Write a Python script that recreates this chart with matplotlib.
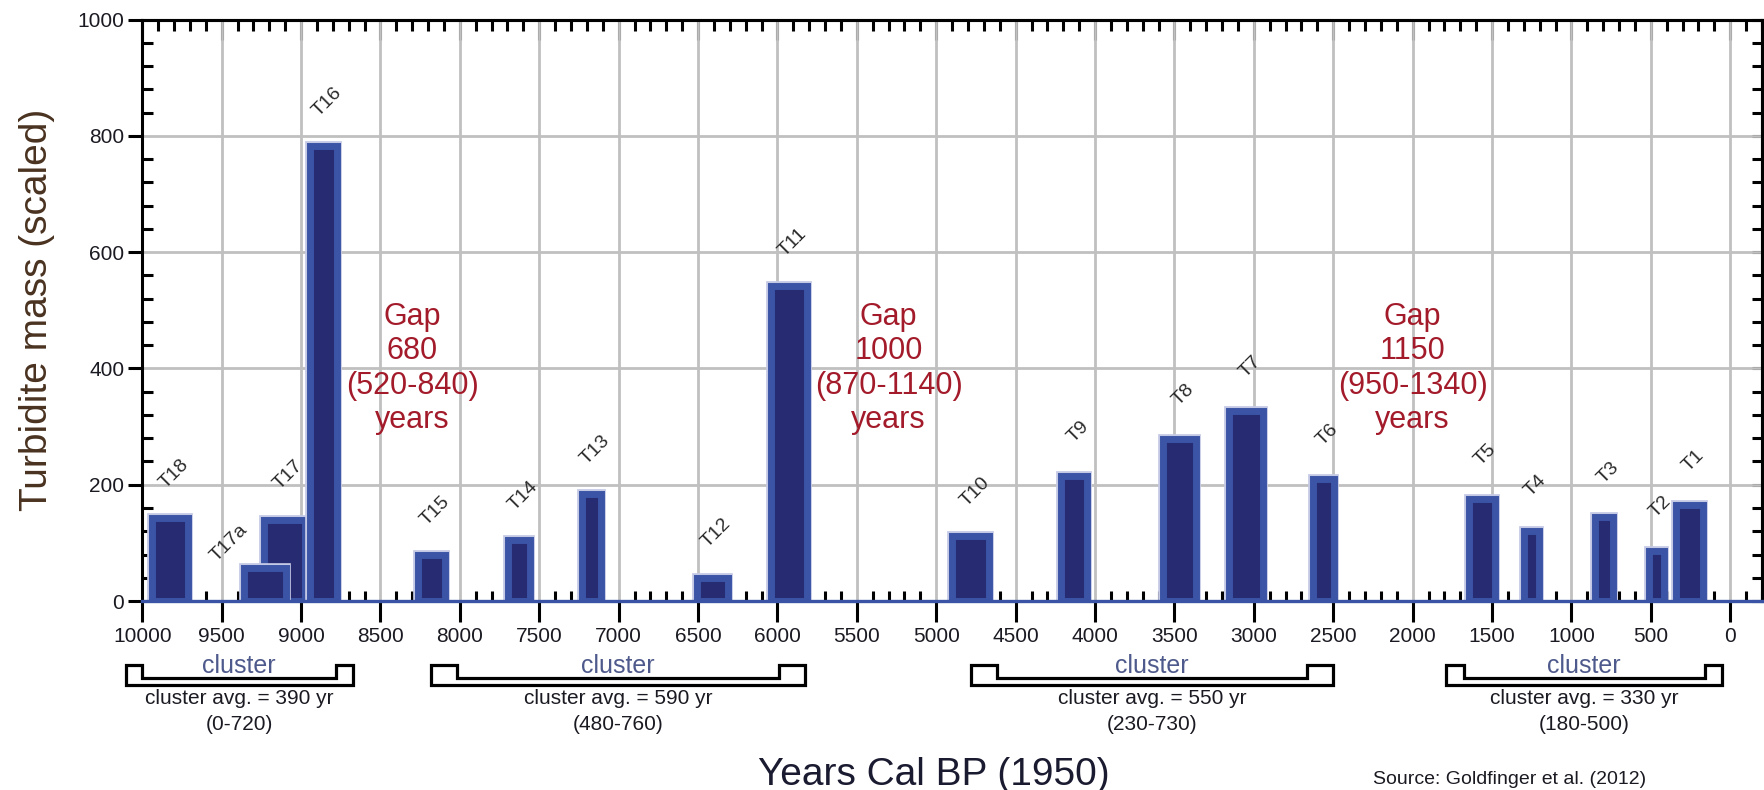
import numpy as np
import matplotlib
matplotlib.use("Agg")
import matplotlib.pyplot as plt
from matplotlib.ticker import MultipleLocator, StrMethodFormatter
from matplotlib.transforms import blended_transform_factory
from matplotlib.patches import Polygon

plt.rcParams['font.family'] = ['Liberation Sans', 'DejaVu Sans']

# turbidite events (T17 listed before T17a so T17a sits on top)
labels = ["T18", "T17", "T17a", "T16", "T15", "T14", "T13", "T12", "T11", "T10",
          "T9", "T8", "T7", "T6", "T5", "T4", "T3", "T2", "T1"]
age_center = [9825, 9104, 9226, 8860, 8180, 7625, 7170, 6410, 5928, 4782,
              4132, 3470, 3050, 2564, 1565, 1253, 795, 465, 256]
age_width = [232, 261, 263, 170, 172, 138, 119, 195, 225, 232,
             159, 207, 217, 133, 166, 96, 118, 99, 166]
mass = [142, 140, 56, 782, 79, 105, 184, 40, 541, 111,
        215, 278, 327, 209, 175, 121, 144, 86, 165]

# gaps between clusters
gap_text = ["Gap\n680\n(520-840)\nyears",
            "Gap\n1000\n(870-1140)\nyears",
            "Gap\n1150\n(950-1340)\nyears"]
gap_x = [8300, 5300, 2000]
gap_y = 400

# cluster brackets under the axis
cluster_start = [10104, 8183, 4782, 1789]
cluster_end = [8674, 5825, 2500, 50]
cluster_notch = [105, 166, 163, 110]
cluster_avg = ["cluster avg. = 390 yr", "cluster avg. = 590 yr",
               "cluster avg. = 550 yr", "cluster avg. = 330 yr"]
cluster_range = ["(0-720)", "(480-760)", "(230-730)", "(180-500)"]

fig = plt.figure(figsize=(17.65, 7.9), dpi=100)
ax = fig.add_axes([0.0806, 0.2392, 0.9177, 0.7361])

ax.set_xlim(10000, -200)
ax.set_ylim(0, 1000)
ax.set_axisbelow(True)
ax.grid(which='major', color='#c0c0c0', lw=2)

# bars: faint halo, then the bar with a lighter blue rim
for i in range(len(labels)):
    ax.bar(age_center[i], mass[i], width=age_width[i], color='none',
           edgecolor='#c3c8e4', lw=7, zorder=3 + i * 0.01)
    ax.bar(age_center[i], mass[i], width=age_width[i], color='#272b72',
           edgecolor='#3b54a5', lw=5, zorder=3.005 + i * 0.01)
    if labels[i] == "T17a":
        off = (-26, 18)
    else:
        off = (3, 32)
    ax.annotate(labels[i], (age_center[i], mass[i]), xytext=off,
                textcoords='offset points', rotation=45, ha='center',
                va='center', fontsize=14, color='#2a2a2a')

for t, x in zip(gap_text, gap_x):
    ax.text(x, gap_y, t, ha='center', va='center', multialignment='center',
            fontsize=22, color='#a31b2a', linespacing=1.2)

# brackets
trans = blended_transform_factory(ax.transData, ax.transAxes)
y_top, y_in, y_bot = -0.1101, -0.1324, -0.1445
for x0, x1, n, avg, rng in zip(cluster_start, cluster_end, cluster_notch,
                               cluster_avg, cluster_range):
    pts = [(x0, y_top), (x0 - n, y_top), (x0 - n, y_in), (x1 + n, y_in),
           (x1 + n, y_top), (x1, y_top), (x1, y_bot), (x0, y_bot)]
    ax.add_patch(Polygon(pts, closed=True, fill=False, ec='black', lw=2.3,
                         joinstyle='miter', transform=trans, clip_on=False))
    xc = (x0 + x1) / 2
    ax.text(xc, -0.1238, "cluster", transform=trans, ha='center',
            va='baseline', fontsize=18, color='#4f5a8c')
    ax.text(xc, -0.177, avg, transform=trans, ha='center', va='baseline',
            fontsize=15, color='#1a1a22')
    ax.text(xc, -0.222, rng, transform=trans, ha='center', va='baseline',
            fontsize=15, color='#1a1a22')

# axes, ticks, spines
ax.xaxis.set_major_locator(MultipleLocator(500))
ax.xaxis.set_minor_locator(MultipleLocator(100))
ax.yaxis.set_major_locator(MultipleLocator(200))
ax.yaxis.set_minor_locator(MultipleLocator(40))
ax.xaxis.set_major_formatter(StrMethodFormatter('{x:.0f}'))
ax.yaxis.set_major_formatter(StrMethodFormatter('{x:.0f}'))

ax.tick_params(axis='x', which='major', direction='out', length=15, width=2.2,
               pad=4, labelsize=15, labelcolor='#1a1a22', top=False)
ax.tick_params(axis='x', which='minor', direction='in', length=7, width=2.2,
               top=False)
ax.tick_params(axis='y', which='major', direction='out', length=10, width=2.2,
               pad=3, labelsize=15, labelcolor='#1a1a22', right=False)
ax.tick_params(axis='y', which='minor', direction='in', length=8, width=2.2,
               right=False)

for s in ['top', 'left', 'right']:
    ax.spines[s].set_linewidth(2.2)
    ax.spines[s].set_color('black')
ax.spines['bottom'].set_linewidth(2.4)
ax.spines['bottom'].set_color('#3a53a4')
ax.spines['bottom'].set_zorder(10)

top = ax.secondary_xaxis('top')
top.xaxis.set_major_locator(MultipleLocator(500))
top.xaxis.set_minor_locator(MultipleLocator(100))
top.tick_params(which='major', direction='in', length=14.5, width=2.2, labeltop=False)
top.tick_params(which='minor', direction='in', length=8, width=2.2)
top.spines['top'].set_linewidth(2.2)

right = ax.secondary_yaxis('right')
right.yaxis.set_major_locator(MultipleLocator(200))
right.yaxis.set_minor_locator(MultipleLocator(40))
right.tick_params(which='both', direction='in', length=7, width=2.2, labelright=False)
right.spines['right'].set_linewidth(2.2)

ax.set_ylabel("Turbidite mass (scaled)", fontsize=28, color='#4a3220')
ax.yaxis.set_label_coords(-0.054, 0.5)
ax.set_xlabel("Years Cal BP (1950)", fontsize=28, color='#1a1a30')
ax.xaxis.set_label_coords(0.489, -0.3164)
ax.xaxis.label.set_verticalalignment('baseline')

fig.text(1373 / 1765, 0.0076, "Source: Goldfinger et al. (2012)", fontsize=14,
         color='#1a1a22', ha='left', va='baseline')

fig.savefig("out.png", dpi=100)
